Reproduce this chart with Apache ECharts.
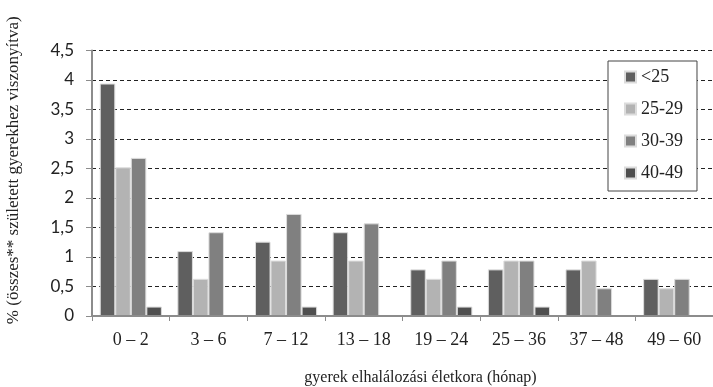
<!DOCTYPE html>
<html>
<head>
<meta charset="utf-8">
<script src="https://cdn.jsdelivr.net/npm/echarts@6/dist/echarts.min.js"></script>
<style>
  html, body { margin: 0; padding: 0; background: #fff; }
  #chart { width: 713px; height: 387px; }
</style>
</head>
<body>
<div id="chart"></div>
<script>
// Child mortality by age at death (months), split by mother's age group
const categories = ['0 – 2', '3 – 6', '7 – 12', '13 – 18', '19 – 24', '25 – 36', '37 – 48', '49 – 60'];
const seriesNames = ['<25', '25-29', '30-39', '40-49'];
const under25   = [3.94, 1.10, 1.26, 1.42, 0.79, 0.79, 0.79, 0.63];
const age25to29 = [2.52, 0.63, 0.94, 0.94, 0.63, 0.94, 0.94, 0.47];
const age30to39 = [2.68, 1.42, 1.73, 1.57, 0.94, 0.94, 0.47, 0.63];
const age40to49 = [0.16, 0,    0.16, 0,    0.16, 0.16, 0,    0];
const yTicks = { min: 0, max: 4.5, interval: 0.5 };

const seriesValues = [under25, age25to29, age30to39, age40to49];
const colors = ['#5f5f5f', '#b3b3b3', '#808080', '#4f4f4f'];
const SERIF = "'Liberation Serif', 'Times New Roman', serif";

const chart = echarts.init(document.getElementById('chart'), null, { renderer: 'canvas' });

chart.setOption({
  animation: false,
  backgroundColor: '#ffffff',
  grid: { left: 92, right: 0, top: 50.5, bottom: 71, containLabel: false, outerBoundsMode: 'none' },
  legend: {
    orient: 'vertical',
    left: 608,
    top: 61,
    data: seriesNames,
    icon: 'rect',
    itemWidth: 11,
    itemHeight: 11,
    itemGap: 14,
    padding: [7, 14, 9, 16],
    backgroundColor: '#ffffff',
    borderColor: '#444444',
    borderWidth: 1,
    textStyle: { fontFamily: SERIF, fontSize: 18, color: '#222', lineHeight: 18 }
  },
  xAxis: {
    type: 'category',
    data: categories,
    z: 5,
    name: 'gyerek elhalálozási életkora (hónap)',
    nameLocation: 'middle',
    nameGap: 54,
    nameTextStyle: { fontFamily: SERIF, fontSize: 16, color: '#222', padding: [0, 0, 0, 36] },
    axisLine: { lineStyle: { color: '#8c8c8c', width: 2 } },
    axisTick: { show: true, alignWithLabel: false, length: 5, lineStyle: { color: '#8c8c8c', width: 1 } },
    axisLabel: { fontFamily: SERIF, fontSize: 18, color: '#222', margin: 15 }
  },
  yAxis: {
    type: 'value',
    min: yTicks.min,
    max: yTicks.max,
    interval: yTicks.interval,
    name: '% (összes** született gyerekhez viszonyítva)',
    nameLocation: 'middle',
    nameGap: 70,
    nameRotate: 90,
    nameTextStyle: { fontFamily: SERIF, fontSize: 17, color: '#222', padding: [0, 0, 0, 26] },
    axisLine: { show: true, lineStyle: { color: '#8c8c8c', width: 2 } },
    axisTick: { show: true, length: 6, lineStyle: { color: '#8c8c8c', width: 1 } },
    axisLabel: {
      fontFamily: 'Lato', fontSize: 17, color: '#222', margin: 18,
      formatter: v => String(v).replace('.', ',')
    },
    splitLine: { show: true, lineStyle: { color: '#222', type: [4, 3], width: 1 } }
  },
  series: seriesNames.map((name, i) => ({
    name: name,
    type: 'bar',
    data: seriesValues[i],
    barGap: '0%',
    barCategoryGap: '20%',
    itemStyle: { color: colors[i], borderColor: '#dcdcdc', borderWidth: 1 }
  }))
});
</script>
</body>
</html>
